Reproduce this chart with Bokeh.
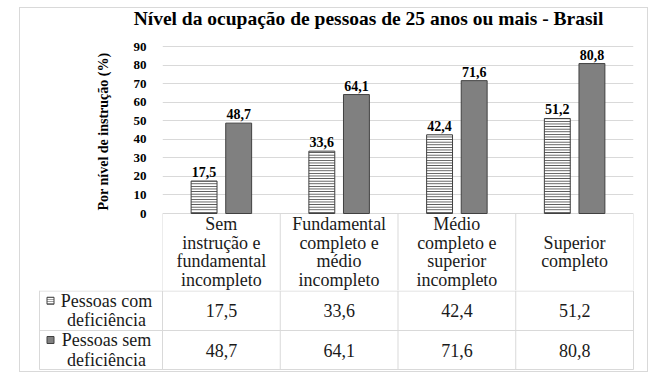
from bokeh.plotting import figure
from bokeh.layouts import column, row
from bokeh.models import ColumnDataSource, FactorRange, Range1d, FixedTicker, Title, Spacer
from bokeh.transform import dodge
from bokeh.core.properties import value
from bokeh.embed import file_html
from bokeh.resources import INLINE

# ---------------- data ----------------
categories = [
    "Sem instrução e fundamental incompleto",
    "Fundamental completo e médio incompleto",
    "Médio completo e superior incompleto",
    "Superior completo",
]
header_labels = [
    "Sem\ninstrução e\nfundamental\nincompleto",
    "Fundamental\ncompleto e\nmédio\nincompleto",
    "Médio\ncompleto e\nsuperior\nincompleto",
    "Superior\ncompleto",
]
com_deficiencia = [17.5, 33.6, 42.4, 51.2]
sem_deficiencia = [48.7, 64.1, 71.6, 80.8]
series_names = ["Pessoas com\ndeficiência", "Pessoas sem\ndeficiência"]
y_ticks = [0, 10, 20, 30, 40, 50, 60, 70, 80, 90]
title_text = "Nível da ocupação de pessoas de 25 anos ou mais - Brasil"
y_label = "Por nível de instrução (%)"


def fmt(v):
    return f"{v:.1f}".replace(".", ",")


# ---------------- style / layout constants (pixels, relative to the layout) ----------------
FONT = "'Liberation Serif', 'Times New Roman', serif"
GRID = "#d9d9d9"
DARK = "#404040"
FILL = "#808080"
TXT = "#1a1a1a"
BOX_X, BOX_Y = 19, 7          # outer border position
W = 627                       # inner width of the bordered box
CONTENT_X0 = BOX_X + 1
CONTENT_Y0 = BOX_Y + 1
TITLE_H = 28                  # height of the title strip
TITLE_Y, TITLE_CX = 18, 368   # title centre
COL_PX = 117.75               # pixel width of one category column
FRAME_LEFT = 162              # x of the plot area's left edge
TOP_Y0 = CONTENT_Y0 + TITLE_H
FRAME_TOP = TOP_Y0 + 1
Y90, Y0 = 46, 213             # y of the 90 and 0 gridlines
HEAD_BOTTOM = 290             # y of the table header's bottom line
PX_PER_UNIT = (Y0 - Y90) / 90.0
Y_END = 90 + (Y90 - FRAME_TOP) / PX_PER_UNIT
Y_START = -(HEAD_BOTTOM - Y0) / PX_PER_UNIT
TOP_H = HEAD_BOTTOM - TOP_Y0
BOT_H = 81

src = ColumnDataSource(dict(
    cat=categories,
    com=com_deficiencia,
    sem=sem_deficiencia,
    com_lbl=[fmt(v) for v in com_deficiencia],
    sem_lbl=[fmt(v) for v in sem_deficiencia],
    head=header_labels,
))

common = dict(output_backend="svg", toolbar_location=None, frame_align=False)

# ---------------- title strip ----------------
tfig = figure(
    width=W, height=TITLE_H,
    x_range=Range1d(CONTENT_X0, CONTENT_X0 + W), y_range=Range1d(CONTENT_Y0 + TITLE_H, CONTENT_Y0),
    min_border_left=0, min_border_right=0, min_border_top=0, min_border_bottom=0,
    x_axis_location=None, y_axis_location=None, **common,
)
tfig.outline_line_color = None
tfig.grid.grid_line_color = None
tfig.text(x=[TITLE_CX], y=[TITLE_Y], text=[title_text],
          text_align="center", text_baseline="middle",
          text_font=value(FONT), text_font_style="bold", text_font_size="19.5px",
          text_color="#000000")

# ---------------- top: bar chart and table header ----------------
top = figure(
    width=W, height=TOP_H,
    x_range=FactorRange(factors=categories, range_padding=0),
    y_range=Range1d(Y_START, Y_END),
    min_border_left=FRAME_LEFT - CONTENT_X0, min_border_right=CONTENT_X0 + W - 633,
    min_border_top=FRAME_TOP - TOP_Y0, min_border_bottom=0,
    x_axis_location=None, **common,
)
top.outline_line_color = None
top.xgrid.grid_line_color = None
top.ygrid.grid_line_color = GRID

yax = top.yaxis[0]
yax.ticker = FixedTicker(ticks=y_ticks)
yax.axis_line_color = None
yax.major_tick_line_color = None
yax.minor_tick_line_color = None
yax.major_label_standoff = 10
yax.major_label_text_font = FONT
yax.major_label_text_font_style = "bold"
yax.major_label_text_font_size = "13px"
yax.major_label_text_color = "#000000"

# y-axis title, placed along the 0..90 part of the axis
ylab = Title(text=y_label, align="left", offset=HEAD_BOTTOM - 210,
             standoff=40, text_font=FONT, text_font_style="bold",
             text_font_size="14px", text_color="#000000")
top.add_layout(ylab, "left")

OFF = 0.147
BW = 0.22
top.vbar(x=dodge("cat", -OFF, range=top.x_range), top="com", width=BW, source=src,
         fill_color="white", line_color=DARK, line_width=1,
         hatch_pattern="horizontal_line", hatch_color=DARK, hatch_scale=2.6, hatch_weight=1)
top.vbar(x=dodge("cat", OFF, range=top.x_range), top="sem", width=BW, source=src,
         fill_color=FILL, line_color=DARK, line_width=1)

for col, lbl, off in (("com", "com_lbl", -OFF), ("sem", "sem_lbl", OFF)):
    top.text(x=dodge("cat", off, range=top.x_range), y=col, text=lbl, source=src,
             text_align="center", text_baseline="bottom", y_offset=-4,
             text_font=value(FONT), text_font_style="bold", text_font_size="14px",
             text_color="#000000")

# table header cells (below the zero line)
n = len(categories)
top.segment(x0=dodge("cat", -0.5, range=top.x_range), y0=0,
            x1=dodge("cat", -0.5, range=top.x_range), y1=Y_START,
            source=src, line_color=GRID, line_width=1)
top.segment(x0=dodge("cat", 0.5, range=top.x_range), y0=0,
            x1=dodge("cat", 0.5, range=top.x_range), y1=Y_START,
            source=ColumnDataSource(dict(cat=categories[-1:])), line_color=GRID, line_width=1)

head_y = Y_START / 2
txt_kw = dict(text_font=value(FONT), text_font_size="18px", text_color=TXT,
              text_align="center", text_baseline="middle", text_line_height=0.93)
top.text(x="cat", y=head_y, text="head", source=src, **txt_kw)

# ---------------- bottom: data rows ----------------
x0 = (CONTENT_X0 - FRAME_LEFT) / COL_PX
x1 = x0 + W / COL_PX
bot = figure(
    width=W, height=BOT_H,
    x_range=Range1d(x0, x1), y_range=Range1d(BOT_H, 0),
    min_border_left=0, min_border_right=0, min_border_top=0, min_border_bottom=0,
    x_axis_location=None, y_axis_location=None, **common,
)
bot.outline_line_color = None
bot.grid.grid_line_color = None

row_edges = [0.5, 40, 79]
label_left = (39 - FRAME_LEFT) / COL_PX

bot.segment(x0=[label_left] * 3, y0=row_edges, x1=[n] * 3, y1=row_edges,
            line_color=GRID, line_width=1)
vxs = [label_left] + list(range(n + 1))
bot.segment(x0=vxs, y0=[0] * len(vxs), x1=vxs, y1=[row_edges[-1]] * len(vxs),
            line_color=GRID, line_width=1)

centers = [i + 0.5 for i in range(n)]
r1_y = (row_edges[0] + row_edges[1]) / 2
r2_y = (row_edges[1] + row_edges[2]) / 2

bot.text(x=centers, y=[r1_y] * n, text=[fmt(v) for v in com_deficiencia], **txt_kw)
bot.text(x=centers, y=[r2_y] * n, text=[fmt(v) for v in sem_deficiencia], **txt_kw)

leg_x = (106 - FRAME_LEFT) / COL_PX
leg_kw = dict(txt_kw, text_line_height=0.97)
bot.text(x=[leg_x, leg_x], y=[r1_y, r2_y], text=series_names, **leg_kw)

key_x = (50 - FRAME_LEFT) / COL_PX
bot.rect(x=[key_x], y=[r1_y - 10], width=7, height=7, width_units="screen", height_units="screen",
         fill_color="white", line_color=DARK, hatch_pattern="horizontal_line",
         hatch_color=DARK, hatch_scale=2, hatch_weight=1)
bot.rect(x=[key_x], y=[r2_y - 10], width=7, height=7, width_units="screen", height_units="screen",
         fill_color=FILL, line_color=DARK)

chart = column(tfig, top, bot, spacing=0, styles={"border": "1px solid #d9d9d9"})
layout = column(
    Spacer(width=1, height=BOX_Y),
    row(Spacer(width=BOX_X, height=1), chart, spacing=0),
    spacing=0,
)
with open("out.html", "w", encoding="utf-8") as f:
    f.write(file_html(layout, INLINE))
